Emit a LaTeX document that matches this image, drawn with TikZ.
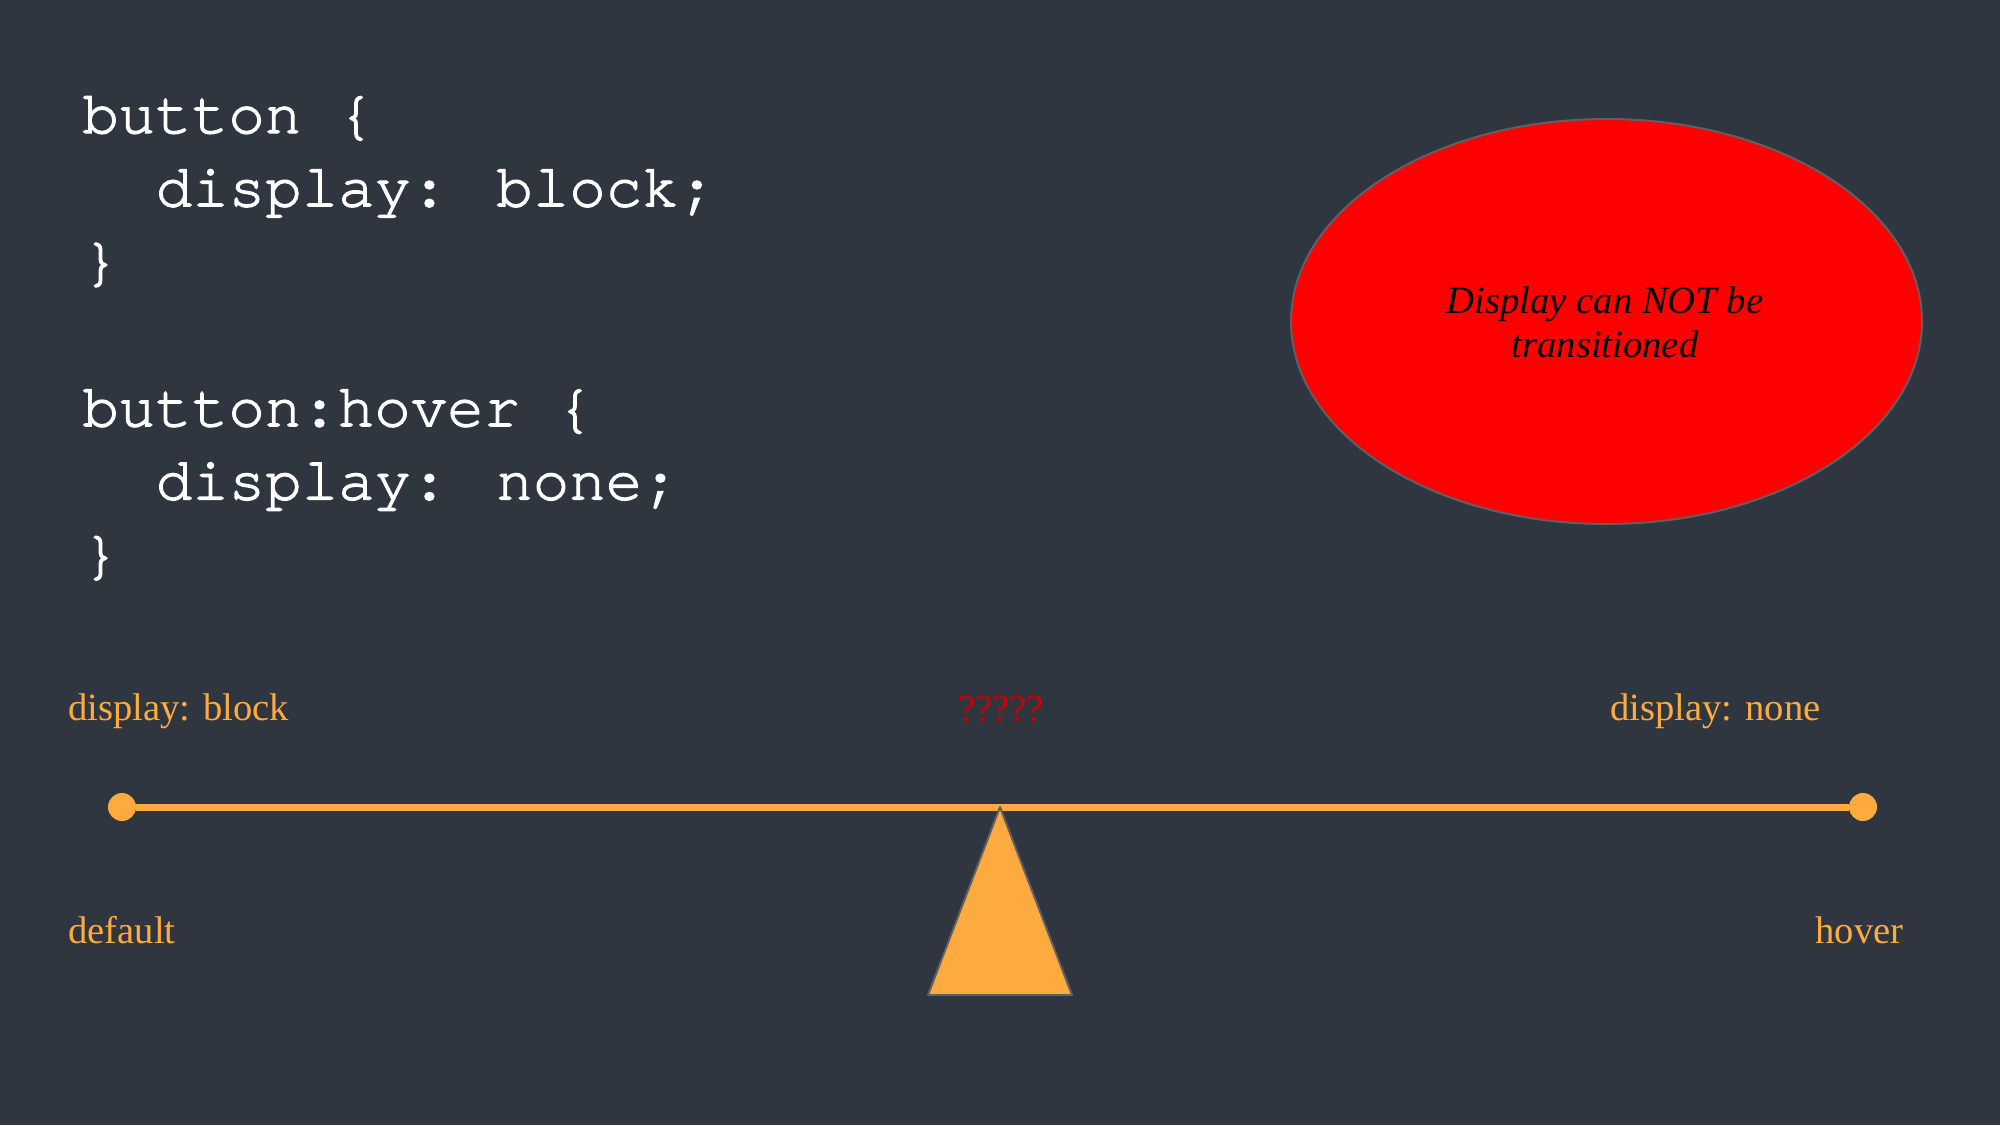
\documentclass[tikz,border=0pt]{standalone}
\usepackage{fontspec}
\setmainfont{Liberation Serif}
\newfontfamily\codefont[FakeBold=2]{TeX Gyre Cursor}
\usetikzlibrary{shapes.geometric}
\definecolor{bg}{RGB}{47,54,64}
\definecolor{orng}{RGB}{253,170,62}
\definecolor{qred}{RGB}{204,0,0}
\definecolor{edgegray}{RGB}{95,95,100}
\begin{document}
\begin{tikzpicture}[x=0.5pt,y=-0.5pt,
  code/.style={anchor=base west, inner sep=0pt, text=white, font=\codefont\fontsize{30.4}{36}\selectfont},
  lbl/.style={anchor=base west, inner sep=0pt, text=orng, font=\fontsize{19.3}{23}\selectfont},
  etext/.style={anchor=base, inner sep=0pt, text=black, font=\itshape\fontsize{19.3}{23}\selectfont},
  dot/.style={circle, fill=orng, inner sep=0pt, minimum size=14pt}]
\fill[bg] (0,0) rectangle (2000,1125);
\useasboundingbox (0,0) rectangle (2000,1125);

% code
\node[code] (c1) at (82,133) {button \{};
\node[code] (c2) at (155.4,206.3) {display: block;};
\node[code] (c3) at (82,279.6) {\}};
\node[code] (c5) at (82,426.2) {button:hover \{};
\node[code] (c6) at (155.4,499.5) {display: none;};
\node[code] (c7) at (82,572.8) {\}};

% ellipse
\node[ellipse, draw=edgegray, line width=1pt, fill=red, inner sep=0pt,
      minimum width=315.5pt, minimum height=202.5pt] (ell) at (1606.5,321.5) {};
\node[etext] (e1) at (1605,313) {Display can NOT be};
\node[etext] (e2) at (1605,357) {transitioned};

% labels
\node[lbl] (lb) at (68,720) {display: block};
\node[lbl] (ln) at (1610,720) {display: none};
\node[lbl] (ld) at (68,943) {default};
\node[lbl] (lh) at (1815,943) {hover};
\node[lbl, text=qred] (lq) at (958,721) {?????};

% seesaw
\node[dot] (dl) at (122,807) {};
\node[dot] (dr) at (1863,807) {};
\draw[orng, line width=3.5pt] (dl) -- (dr);
\coordinate (apex) at (1000,807);
\draw[fill=orng, draw=edgegray, line width=1pt, line join=round] (apex) -- (928,995) -- (1072,995) -- cycle;
\end{tikzpicture}
\end{document}
